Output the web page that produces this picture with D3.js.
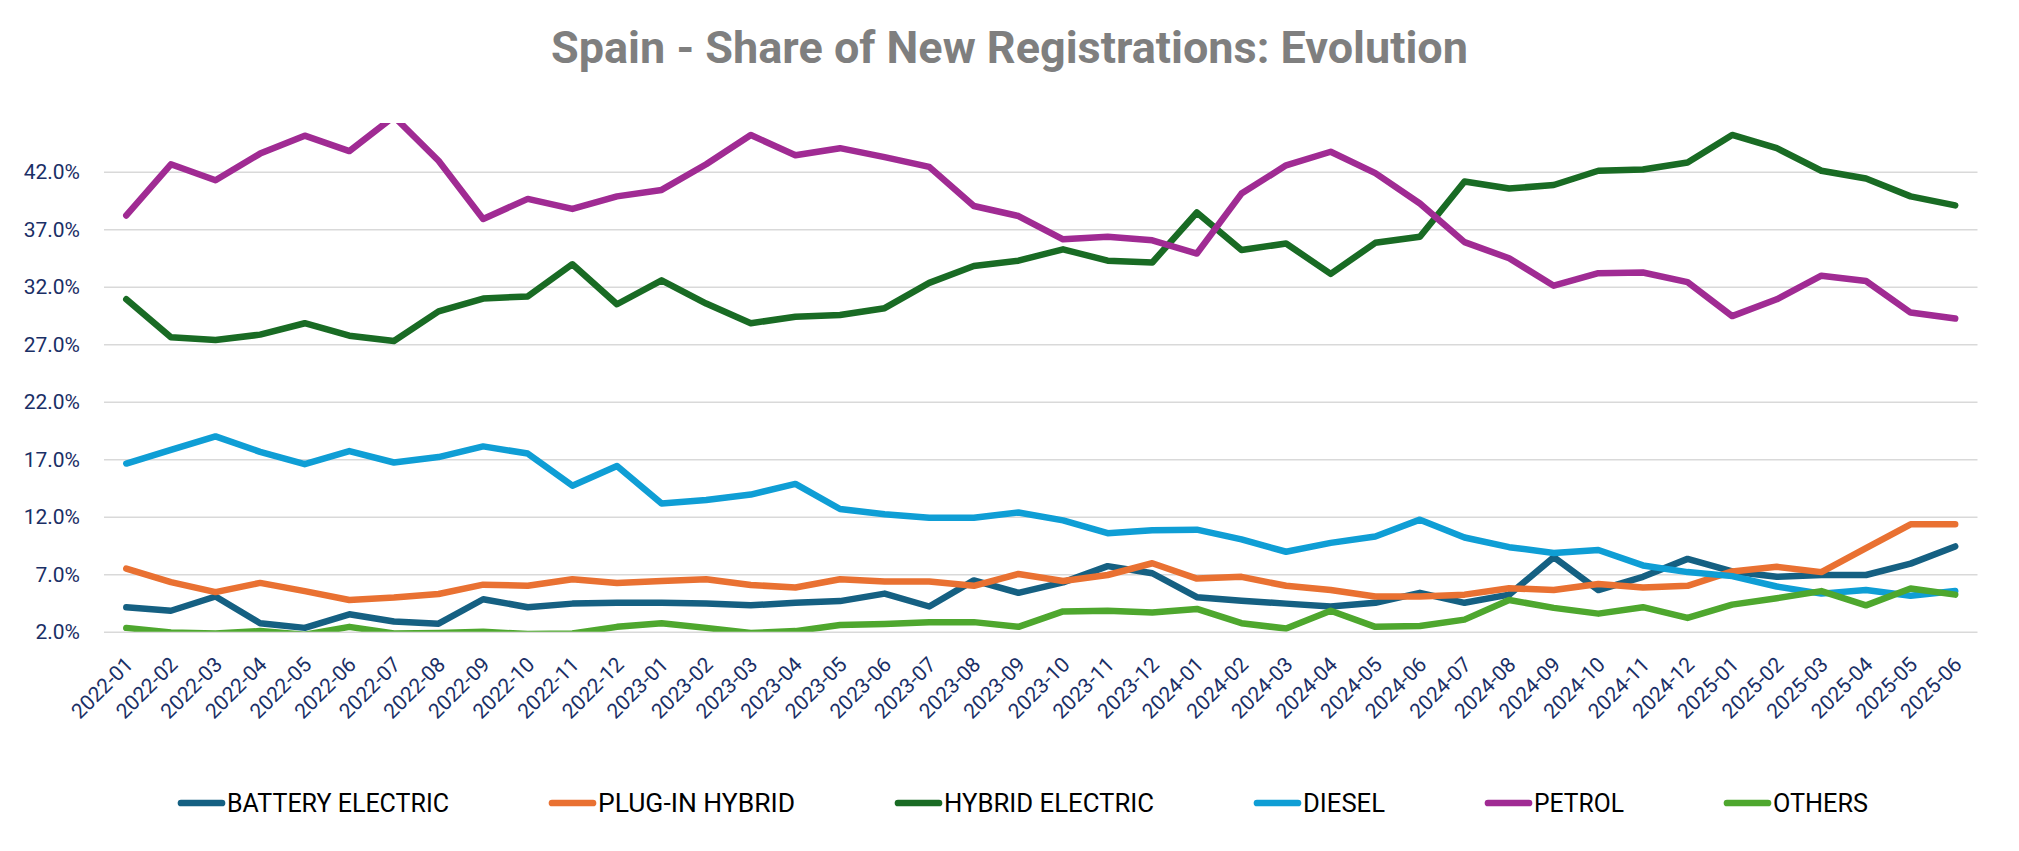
<!DOCTYPE html>
<html>
<head>
<meta charset="utf-8">
<script src="https://cdn.jsdelivr.net/npm/d3@7"></script>
<style>
  html, body { margin: 0; padding: 0; background: #ffffff; }
  svg { display: block; }
</style>
</head>
<body>
<div id="chart"></div>
<script>
const months = [
  "2022-01","2022-02","2022-03","2022-04","2022-05","2022-06","2022-07","2022-08","2022-09","2022-10","2022-11","2022-12",
  "2023-01","2023-02","2023-03","2023-04","2023-05","2023-06","2023-07","2023-08","2023-09","2023-10","2023-11","2023-12",
  "2024-01","2024-02","2024-03","2024-04","2024-05","2024-06","2024-07","2024-08","2024-09","2024-10","2024-11","2024-12",
  "2025-01","2025-02","2025-03","2025-04","2025-05","2025-06"
];
const batteryElectric = [4.14,3.83,5.07,2.75,2.34,3.52,2.90,2.71,4.83,4.14,4.45,4.52, 4.52,4.45,4.30,4.52,4.67,5.32,4.20,6.47,5.39,6.30,7.71,7.09, 5.01,4.70,4.45,4.20,4.52,5.39,4.52,5.23,8.49,5.63,6.78,8.34, 7.25,6.78,6.94,6.94,7.93,9.42];
const plugInHybrid = [7.50,6.32,5.45,6.25,5.54,4.76,4.98,5.29,6.10,6.00,6.57,6.25, 6.41,6.57,6.07,5.85,6.57,6.38,6.38,6.00,7.03,6.41,6.94,7.96, 6.63,6.78,6.00,5.63,5.07,5.07,5.23,5.79,5.63,6.16,5.85,6.00, 7.25,7.65,7.19,9.27,11.35,11.35];
const hybridElectric = [30.91,27.62,27.37,27.84,28.83,27.75,27.28,29.86,30.98,31.16,33.96,30.48, 32.56,30.54,28.83,29.39,29.55,30.14,32.34,33.80,34.27,35.26,34.27,34.11, 38.46,35.20,35.76,33.12,35.82,36.35,41.16,40.54,40.85,42.09,42.19,42.81, 45.20,44.05,42.09,41.41,39.86,39.08];
const diesel = [16.63,17.81,18.99,17.65,16.57,17.71,16.72,17.19,18.12,17.50,14.70,16.41, 13.15,13.46,13.93,14.86,12.68,12.22,11.91,11.91,12.37,11.69,10.57,10.82, 10.88,10.04,8.96,9.73,10.29,11.75,10.20,9.36,8.86,9.11,7.77,7.19, 6.84,5.94,5.32,5.63,5.14,5.54];
const petrol = [38.20,42.65,41.26,43.58,45.14,43.80,46.80,42.96,37.90,39.64,38.77,39.86, 40.42,42.65,45.20,43.43,44.05,43.27,42.43,39.02,38.15,36.13,36.35,36.04, 34.89,40.10,42.56,43.74,41.88,39.24,35.88,34.48,32.09,33.18,33.24,32.40, 29.45,30.91,32.96,32.50,29.76,29.24];
const others = [2.34,1.95,1.85,2.06,1.75,2.43,1.85,1.90,2.00,1.80,1.86,2.43, 2.75,2.34,1.90,2.06,2.59,2.68,2.84,2.84,2.43,3.77,3.83,3.68, 3.99,2.75,2.28,3.83,2.43,2.50,3.06,4.76,4.08,3.58,4.14,3.21, 4.36,4.92,5.54,4.30,5.76,5.23];

const seriesNames = ["BATTERY ELECTRIC","PLUG-IN HYBRID","HYBRID ELECTRIC","DIESEL","PETROL","OTHERS"];
const seriesValues = [batteryElectric, plugInHybrid, hybridElectric, diesel, petrol, others];
const seriesColors = ["#156082","#E97132","#196B24","#0F9ED5","#A02B93","#4EA72E"];
const yTicks = [2,7,12,17,22,27,32,37,42];
const yMin = 2, yMax = 46.24;
const titleText = "Spain - Share of New Registrations: Evolution";

// layout constants (pixels)
const W = 2019, H = 851;
const plot = {left: 104, right: 1977.5, top: 123, bottom: 631.8};
const legendTextWidths = [222, 197, 210, 82, 90, 95];

const svg = d3.select("#chart").append("svg")
  .attr("width", W).attr("height", H)
  .style("font-family", "Roboto, 'Open Sans', sans-serif");
svg.append("rect").attr("width", W).attr("height", H).attr("fill", "#ffffff");

const x = d3.scaleBand().domain(months).range([plot.left, plot.right]).paddingInner(0).paddingOuter(0);
const xc = m => x(m) + x.bandwidth() / 2;
const y = d3.scaleLinear().domain([yMin, yMax]).range([plot.bottom, plot.top]);

// title
svg.append("text")
  .attr("x", W / 2).attr("y", 62.5)
  .attr("text-anchor", "middle")
  .attr("font-size", 45).attr("font-weight", 700)
  .attr("fill", "#7F7F7F")
  .attr("textLength", 917).attr("lengthAdjust", "spacingAndGlyphs")
  .text(titleText);

// gridlines + y labels
const yAxis = d3.axisLeft(y).tickValues(yTicks).tickFormat(d => d3.format(".1f")(d) + "%").tickSize(-(plot.right - plot.left)).tickPadding(24);
const gy = svg.append("g").attr("transform", `translate(${plot.left},0)`).call(yAxis);
gy.select(".domain").remove();
gy.selectAll(".tick line").attr("stroke", "#D9D9D9").attr("stroke-width", 1.4);
gy.selectAll(".tick text").attr("fill", "#1A2F66").attr("font-size", 21).attr("font-family", "Roboto, sans-serif");

// x axis labels
const xAxis = d3.axisBottom(x).tickSize(0).tickPadding(0);
const gx = svg.append("g").attr("transform", `translate(0,${plot.bottom})`).call(xAxis);
gx.select(".domain").remove();
gx.selectAll(".tick text")
  .attr("fill", "#1A2F66").attr("font-size", 21).attr("font-family", "Roboto, sans-serif")
  .attr("text-anchor", "end")
  .attr("dy", null).attr("y", null)
  .attr("transform", "translate(8,34) rotate(-45)");

// clip
svg.append("clipPath").attr("id", "plotclip").append("rect")
  .attr("x", plot.left - 10).attr("y", plot.top).attr("width", plot.right - plot.left + 20).attr("height", plot.bottom - plot.top);

const line = d3.line().x((d, i) => xc(months[i])).y(d => y(d));
const gLines = svg.append("g").attr("clip-path", "url(#plotclip)");
seriesValues.forEach((vals, k) => {
  gLines.append("path")
    .attr("d", line(vals))
    .attr("fill", "none")
    .attr("stroke", seriesColors[k])
    .attr("stroke-width", 6.5)
    .attr("stroke-linejoin", "round")
    .attr("stroke-linecap", "round");
});

// legend
const legendY = 803;
const swatchW = 47, gapText = 2, itemGap = 100;
const lg = svg.append("g");
let cx = 178;
seriesNames.forEach((name, k) => {
  const g = lg.append("g").attr("transform", `translate(${cx},0)`);
  g.append("line").attr("x1", 3).attr("x2", swatchW - 3).attr("y1", legendY).attr("y2", legendY)
    .attr("stroke", seriesColors[k]).attr("stroke-width", 6.7).attr("stroke-linecap", "round");
  g.append("text").attr("x", swatchW + gapText).attr("y", legendY + 9)
    .attr("font-size", 25).attr("fill", "#000000")
    .attr("textLength", legendTextWidths[k]).attr("lengthAdjust", "spacingAndGlyphs")
    .text(name);
  cx += swatchW + gapText + legendTextWidths[k] + itemGap;
});
</script>
</body>
</html>
